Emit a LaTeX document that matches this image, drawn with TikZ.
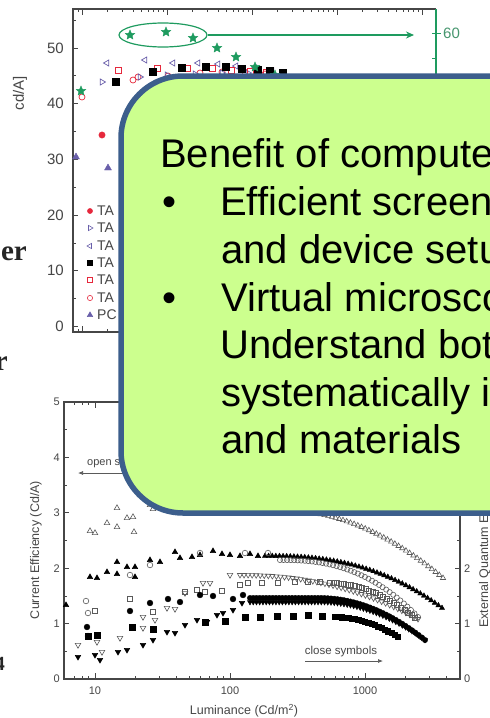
\documentclass[tikz,border=0pt]{standalone}
\usepackage{fontspec}
\setmainfont{Liberation Sans}
\newfontfamily\slideserif{Liberation Serif}
\usetikzlibrary{arrows.meta,plotmarks,shapes.geometric}

\definecolor{boxfill}{RGB}{204,255,142}
\definecolor{boxline}{RGB}{60,94,140}
\definecolor{axgreen}{RGB}{30,155,95}
\definecolor{numgreen}{RGB}{70,150,110}
\definecolor{mkred}{RGB}{230,40,60}
\definecolor{mkblue}{RGB}{105,95,170}
\definecolor{axgray}{RGB}{70,70,70}
\definecolor{opengray}{RGB}{90,90,90}

% filled five-pointed star used as a plot mark
\pgfdeclareplotmark{fivestar}{%
  \pgfpathmoveto{\pgfpointpolar{90}{\pgfplotmarksize}}%
  \pgfpathlineto{\pgfpointpolar{126}{0.45\pgfplotmarksize}}%
  \pgfpathlineto{\pgfpointpolar{162}{\pgfplotmarksize}}%
  \pgfpathlineto{\pgfpointpolar{198}{0.45\pgfplotmarksize}}%
  \pgfpathlineto{\pgfpointpolar{234}{\pgfplotmarksize}}%
  \pgfpathlineto{\pgfpointpolar{270}{0.45\pgfplotmarksize}}%
  \pgfpathlineto{\pgfpointpolar{306}{\pgfplotmarksize}}%
  \pgfpathlineto{\pgfpointpolar{342}{0.45\pgfplotmarksize}}%
  \pgfpathlineto{\pgfpointpolar{18}{\pgfplotmarksize}}%
  \pgfpathlineto{\pgfpointpolar{54}{0.45\pgfplotmarksize}}%
  \pgfpathclose
  \pgfusepathqfillstroke}

\tikzset{
  frameline/.style={axgray, line width=1.1pt},
  tickline/.style={axgray, line width=0.8pt},
  ticknum/.style={font=\fontsize{15}{15}\selectfont, text=axgray, inner sep=0pt},
  smallnum/.style={font=\fontsize{11}{11}\selectfont, text=axgray, inner sep=0pt},
  axislabel/.style={font=\fontsize{12.5}{12.5}\selectfont, text=axgray, inner sep=0pt},
  legendtext/.style={font=\fontsize{14}{14}\selectfont, text=axgray, anchor=west, inner sep=0pt},
  cutword/.style={font=\slideserif\bfseries\fontsize{29}{29}\selectfont, text=black!85, anchor=base east, inner sep=0pt},
  callout/.style={fill=boxfill, draw=boxline, line width=5.5pt, rounded corners=62pt},
  callouttext/.style={font=\fontsize{40}{47}\selectfont, anchor=base west, inner sep=0pt},
  openmk/.style={opengray, line width=0.6pt},
  filledmk/.style={black},
}

\begin{document}
\begin{tikzpicture}[x=1pt, y=-1pt]
\useasboundingbox (0,0) rectangle (490,718);
\clip (0,0) rectangle (490,718);
\fill[white] (0,0) rectangle (490,718);

% word endings from the neighbouring text column
\node[cutword] (w1) at (27,260) {er};
\node[cutword] (w2) at (8,370) {r};
\node[cutword, font=\slideserif\bfseries\fontsize{20}{20}\selectfont] (w3) at (5,670) {4};

% ================= upper plot =================
\draw[frameline] (436,9) -- (73,9) -- (73,332) -- (436,332);
\draw[axgreen, line width=1.1pt] (436,9) -- (436,332);
\foreach \val in {0,10,...,50} \draw[tickline] (73,{326.5-5.57*\val}) -- ++(5,0);
\foreach \val in {5,15,...,55} \draw[tickline] (73,{326.5-5.57*\val}) -- ++(3,0);
\foreach \val in {0,10,...,50} \node[ticknum, anchor=east] (ty\val) at (64,{326.5-5.57*\val}) {\val};
% logarithmic ticks on top and bottom
\foreach \dec/\ks in {-1/{8,9}, 0/{2,...,9}, 1/{2,...,9}, 2/{2,...,9}, 3/{2,...,9}} {
  \foreach \kk in \ks {
    \pgfmathsetmacro\xx{82+85*\dec+85*log10(\kk)}
    \draw[tickline] (\xx,9) -- ++(0,3);
    \draw[tickline] (\xx,332) -- ++(0,-3);
  }
}
\foreach \xx in {82,167,252,337,422} {
  \draw[tickline] (\xx,9) -- ++(0,6);
  \draw[tickline] (\xx,332) -- ++(0,-6);
}
% right (green) axis
\draw[axgreen, line width=0.8pt] (432,33) -- (441,33);
\draw[axgreen, line width=0.8pt] (432,58) -- (436,58);
\node[font=\fontsize{15}{15}\selectfont, text=numgreen, anchor=west, inner sep=0pt] (t60) at (443,33) {60};
\node[font=\fontsize{15}{15}\selectfont, text=axgray, rotate=90, inner sep=0pt] (ylab) at (20,93) {cd/A]};

% highlighted group of stars and arrow to the right axis
\node[draw=axgreen, line width=1.2pt, ellipse, minimum width=88pt, minimum height=24pt, inner sep=0pt] (grp) at (163,35) {};
\coordinate (arrowend) at (414,35);
\draw[axgreen, line width=1.2pt, -{Stealth[length=8pt,width=7pt]}] (grp.east) -- (arrowend);

% data of the upper plot
\draw[mkred, line width=0.7pt] plot[only marks, mark=o, mark size=3]
  coordinates {(82,97) (133,80) (138,77) (168,76) (200,73) (222,72) (245,72) (265,74)};
\draw[mkblue, line width=0.7pt] plot[only marks, mark=triangle, mark size=3.5, mark options={rotate=-90}]
  coordinates {(102,82) (140,77) (167,75) (195,74) (222,73) (248,73)};
\draw[mkblue, line width=0.7pt] plot[only marks, mark=triangle, mark size=3.5, mark options={rotate=90}]
  coordinates {(107,63) (145,60) (173,63) (198,63) (218,64) (236,66) (255,68) (272,71)};
\draw[mkred, line width=0.7pt] plot[only marks, mark=square, mark size=3]
  coordinates {(118,70) (157,68) (187,68) (212,68) (231,70) (250,71) (266,72)};
\draw[black] plot[only marks, mark=square*, mark size=3.5]
  coordinates {(116,82) (153,72) (182,68) (206,67) (226,67) (242,69) (258,70) (270,71) (283,73)};
\draw[axgreen] plot[only marks, mark=fivestar, mark size=5, mark options={fill=axgreen}]
  coordinates {(81,91) (130,35) (166,32) (193,38) (217,48) (236,57) (255,67) (275,75)};
\draw[mkred] plot[only marks, mark=*, mark size=3.2] coordinates {(102,135)};
\draw[mkblue] plot[only marks, mark=triangle*, mark size=4] coordinates {(76,157) (108,168)};

% legend
\draw[mkred] plot[only marks, mark=*, mark size=2.6] coordinates {(90,211)};
\draw[mkblue, line width=0.6pt] plot[only marks, mark=triangle, mark size=3, mark options={rotate=-90}] coordinates {(90,228)};
\draw[mkblue, line width=0.6pt] plot[only marks, mark=triangle, mark size=3, mark options={rotate=90}] coordinates {(90,246)};
\draw[black] plot[only marks, mark=square*, mark size=2.4] coordinates {(90,263)};
\draw[mkred, line width=0.6pt] plot[only marks, mark=square, mark size=2.4] coordinates {(90,280)};
\draw[mkred, line width=0.6pt] plot[only marks, mark=o, mark size=2.6] coordinates {(90,298)};
\draw[mkblue] plot[only marks, mark=triangle*, mark size=3.2] coordinates {(90,315)};
\foreach \yy/\nm/\txt in {211/a/TA, 228/b/TA, 246/c/TA, 263/d/TA, 280/e/TA, 298/f/TA, 315/g/PC}
  \node[legendtext] (leg\nm) at (97,\yy) {\txt};

% ================= lower plot =================
\draw[frameline] (64,402) rectangle (460,679);
\foreach \val in {0,...,5} {
  \draw[tickline] (64,{679-55.4*\val}) -- ++(5,0);
  \draw[tickline] (460,{679-55.4*\val}) -- ++(-5,0);
}
\foreach \val in {0.5,1.5,...,4.5} {
  \draw[tickline] (64,{679-55.4*\val}) -- ++(3,0);
  \draw[tickline] (460,{679-55.4*\val}) -- ++(-3,0);
}
\foreach \val in {0,...,5} \node[smallnum, anchor=east] (cy\val) at (60,{679-55.4*\val}) {\val};
\foreach \val in {0,1,2} \node[smallnum, anchor=west] (ey\val) at (464,{679-55.4*\val}) {\val};
\foreach \dec/\ks in {-1/{7,8,9}, 0/{2,...,9}, 1/{2,...,9}, 2/{2,3,4}} {
  \foreach \kk in \ks {
    \pgfmathsetmacro\xx{95+135*\dec+135*log10(\kk)}
    \draw[tickline] (\xx,679) -- ++(0,-3);
    \draw[tickline] (\xx,402) -- ++(0,3);
  }
}
\foreach \xx/\lab in {95/10, 230/100, 365/1000} {
  \draw[tickline] (\xx,679) -- ++(0,-6);
  \draw[tickline] (\xx,402) -- ++(0,6);
  \node[smallnum] (lx\lab) at (\xx,691) {\lab};
}
\node[axislabel, rotate=90] (cel) at (36,550) {Current Efficiency (Cd/A)};
\node[axislabel, rotate=90, anchor=west] (eqe) at (485,628) {External Quantum Efficiency (\%)};
\node[axislabel] (lum) at (244,711) {Luminance (Cd/m\textsuperscript{2})};

% annotations
\node[smallnum, anchor=west] (opn) at (87,463) {open symbols};
\coordinate (opna) at (126,473);
\coordinate (opnb) at (78,473);
\draw[opengray, line width=0.7pt, -{Latex[length=5pt,width=4pt]}] (opna) -- (opnb);
\node[smallnum, font=\fontsize{11.5}{11.5}\selectfont] (cls) at (341,652) {close symbols};
\coordinate (clsa) at (305,661);
\coordinate (clsb) at (383,661);
\draw[opengray, line width=0.7pt, -{Latex[length=5pt,width=4pt]}] (clsa) -- (clsb);

% open triangles (up)
\draw[openmk] plot[only marks, mark=triangle, mark size=3.2]
  coordinates {(90,531) (95,533) (107,523) (117,527) (117,508) (127,518) (133,517) (134,532) (150,505) (153,509) (160,508)};
\draw[openmk] plot[only marks, mark=triangle, mark size=3, domain=280:443, samples=45]
  (\x,{510+68*((\x-280+0.01)/163)^2});
% filled triangles (up)
\draw[filledmk] plot[only marks, mark=triangle*, mark size=3.2]
  coordinates {(66,605) (90,577) (97,578) (107,572) (117,574) (117,562) (127,567) (135,567) (135,577) (150,560) (160,562) (175,552) (180,558) (192,557) (200,555) (213,551) (222,554) (230,555) (240,556) (250,554) (258,556)};
\draw[filledmk] plot[only marks, mark=triangle*, mark size=3, domain=265:442, samples=50]
  (\x,{556+52*((\x-265+0.01)/177)^2.5});
% open circles
\draw[openmk] plot[only marks, mark=o, mark size=2.8]
  coordinates {(86,601) (88,613) (130,575) (150,565) (200,553) (245,553) (268,553)};
\draw[openmk] plot[only marks, mark=o, mark size=2.6, domain=280:418, samples=40]
  (\x,{560+57*((\x-280+0.01)/138)^2.5});
% open triangles (down)
\draw[openmk] plot[only marks, mark=triangle, mark size=3.2, mark options={rotate=180}]
  coordinates {(78,645) (97,642) (102,652) (120,638) (143,617) (143,628) (155,620) (167,608) (175,609) (185,593) (203,583) (210,583) (230,575)};
\draw[openmk] plot[only marks, mark=triangle, mark size=3, mark options={rotate=180}, domain=240:418, samples=45]
  (\x,{575+44*((\x-240+0.01)/178)^2.2});
% open squares
\draw[openmk] plot[only marks, mark=square, mark size=2.6]
  coordinates {(95,611) (130,599) (153,612) (185,592) (197,590) (205,592) (222,591) (240,585) (248,583) (262,583) (278,583) (295,582) (308,582) (320,582)};
\draw[openmk] plot[only marks, mark=square, mark size=2.5, domain=330:415, samples=25]
  (\x,{583+35*((\x-330+0.01)/85)^2});
% filled circles
\draw[filledmk] plot[only marks, mark=*, mark size=2.9]
  coordinates {(87,627) (88,636) (130,611) (150,603) (168,599) (180,602) (200,595) (213,596) (233,599) (243,595)};
\draw[filledmk] plot[only marks, mark=*, mark size=2.7, domain=250:425, samples=55]
  (\x,{598+42*(max(\x-320,0)/105)^2});
% filled triangles (down)
\draw[filledmk] plot[only marks, mark=triangle*, mark size=3.2, mark options={rotate=180}]
  coordinates {(78,657) (95,655) (100,660) (118,652) (127,650) (143,645) (153,640) (167,632) (175,633) (185,625) (197,620) (207,622) (217,615) (223,613) (233,610) (242,603)};
\draw[filledmk] plot[only marks, mark=triangle*, mark size=3, mark options={rotate=180}, domain=250:425, samples=55]
  (\x,{602+38*(max(\x-320,0)/105)^2});
% filled squares
\draw[filledmk] plot[only marks, mark=square*, mark size=2.7]
  coordinates {(88,636) (97,635) (132,627) (153,629) (205,622) (225,621) (245,617) (260,617) (277,616) (293,616) (308,615) (322,616)};
\draw[filledmk] plot[only marks, mark=square*, mark size=2.6, domain=335:398, samples=20]
  (\x,{617+20*((\x-335+0.01)/63)^2});

% ================= callout =================
\draw[callout] (121,76) rectangle (580,513);
\node[callouttext] (l1) at (160,167) {Benefit of computer};
\node[callouttext] (b1) at (162,215) {\textbullet};
\node[callouttext] (l2) at (220,215) {Efficient screening};
\node[callouttext] (l3) at (221,263) {and device setup};
\node[callouttext] (b2) at (162,311) {\textbullet};
\node[callouttext] (l4) at (221,311) {Virtual microscope};
\node[callouttext] (l5) at (220,358) {Understand both};
\node[callouttext] (l6) at (221,406) {systematically in};
\node[callouttext] (l7) at (221,453) {and materials};
\end{tikzpicture}
\end{document}
